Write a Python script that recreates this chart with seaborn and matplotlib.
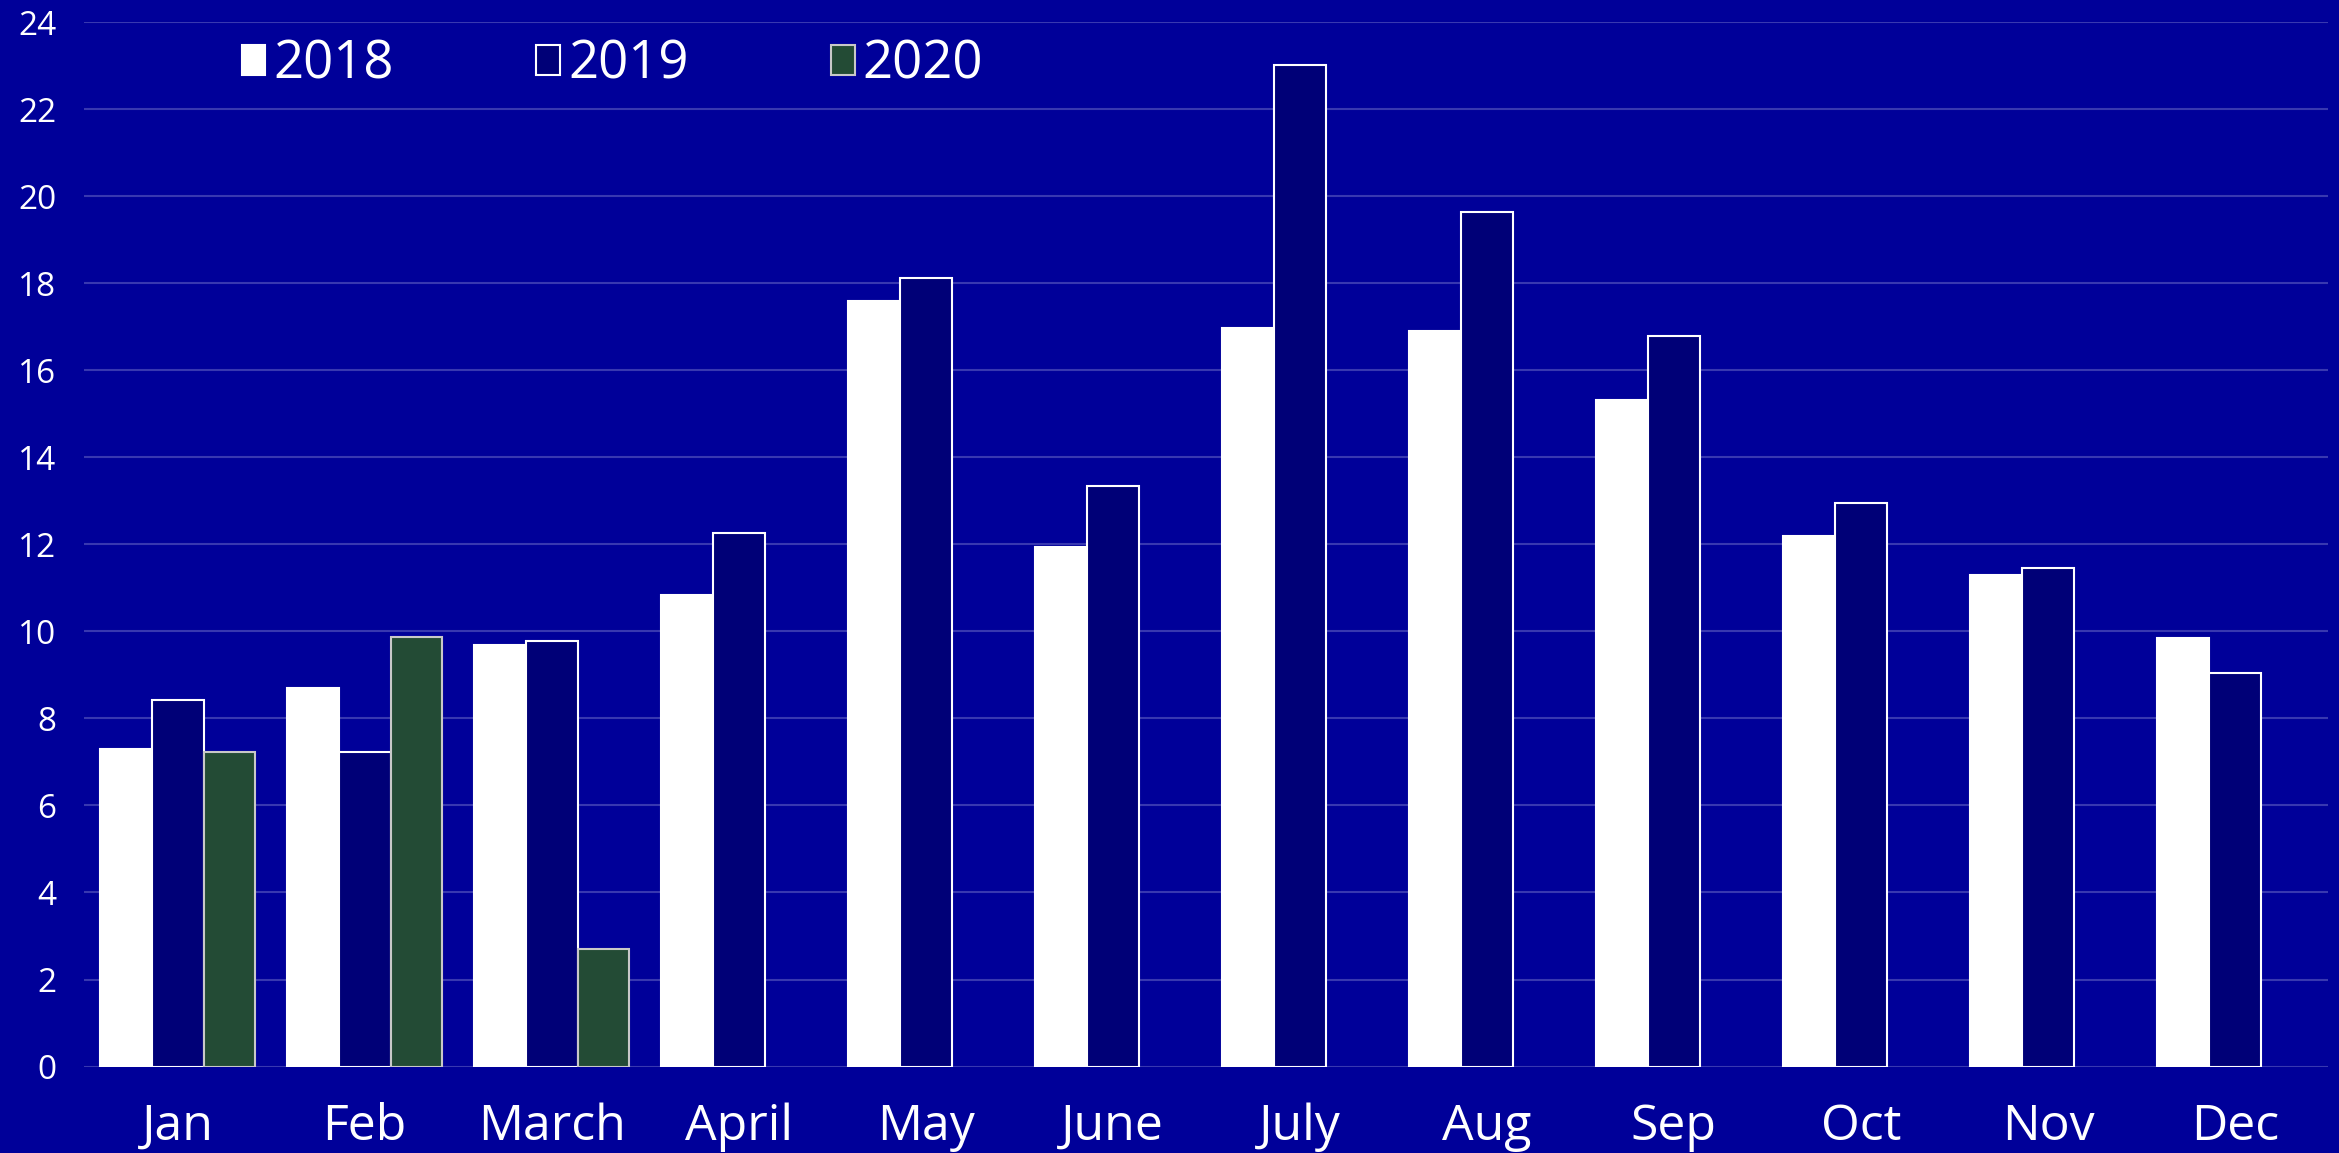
import matplotlib
matplotlib.use('Agg')
import matplotlib.pyplot as plt
from matplotlib.patches import Patch
import seaborn as sns
import pandas as pd
import numpy as np

months = ['Jan', 'Feb', 'March', 'April', 'May', 'June', 'July', 'Aug', 'Sep', 'Oct', 'Nov', 'Dec']
years = ['2018', '2019', '2020']
v2018 = [7.3, 8.7, 9.7, 10.83, 17.6, 11.93, 16.97, 16.9, 15.33, 12.2, 11.3, 9.84]
v2019 = [8.43, 7.23, 9.77, 12.27, 18.13, 13.34, 23.02, 19.64, 16.8, 12.96, 11.45, 9.05]
v2020 = [7.23, 9.87, 2.71] + [np.nan] * 9

df = pd.DataFrame({
    'month': months * 3,
    'year': ['2018'] * 12 + ['2019'] * 12 + ['2020'] * 12,
    'value': v2018 + v2019 + v2020,
})

bg = '#000099'
fills = {'2018': '#FFFFFF', '2019': '#000077', '2020': '#234B35'}
edges = {'2018': '#FFFFFF', '2019': '#FFFFFF', '2020': '#C8C8C8'}

sns.set_style('white')
plt.rcParams['font.family'] = ['Open Sans', 'DejaVu Sans']

fig = plt.figure(figsize=(23.39, 11.53), dpi=100, facecolor=bg)
ax = fig.add_axes([0.036, 0.075, 0.9595, 0.9056])
ax.set_facecolor(bg)

sns.barplot(data=df, x='month', y='value', hue='year', order=months, hue_order=years,
            palette=fills, width=0.83, ax=ax, legend=False, saturation=1)

for cont, yr in zip(ax.containers, years):
    for bar in cont:
        bar.set_edgecolor(edges[yr])
        bar.set_linewidth(1.5)

ax.set_xlim(-0.5, 11.5)
ax.set_ylim(0, 24)
ax.set_yticks(range(0, 25, 2))
ax.yaxis.grid(True, color='#3838B0', linewidth=1.5)
ax.set_axisbelow(True)
for s in ax.spines.values():
    s.set_visible(False)
ax.set_xlabel('')
ax.set_ylabel('')
ax.tick_params(axis='y', colors='white', labelsize=24, length=0, pad=20)
ax.tick_params(axis='x', colors='white', labelsize=36, length=0, pad=26)

handles = [Patch(facecolor=fills[y], edgecolor=edges[y], linewidth=1.5) for y in years]
fig.legend(handles, years, loc='center left', bbox_to_anchor=(0.083, 0.944), ncol=3,
           frameon=False, fontsize=38, labelcolor='white', handlelength=0.45,
           handleheight=0.5, handletextpad=0.15, columnspacing=2.7)

fig.savefig('out.png', dpi=100, facecolor=bg)
